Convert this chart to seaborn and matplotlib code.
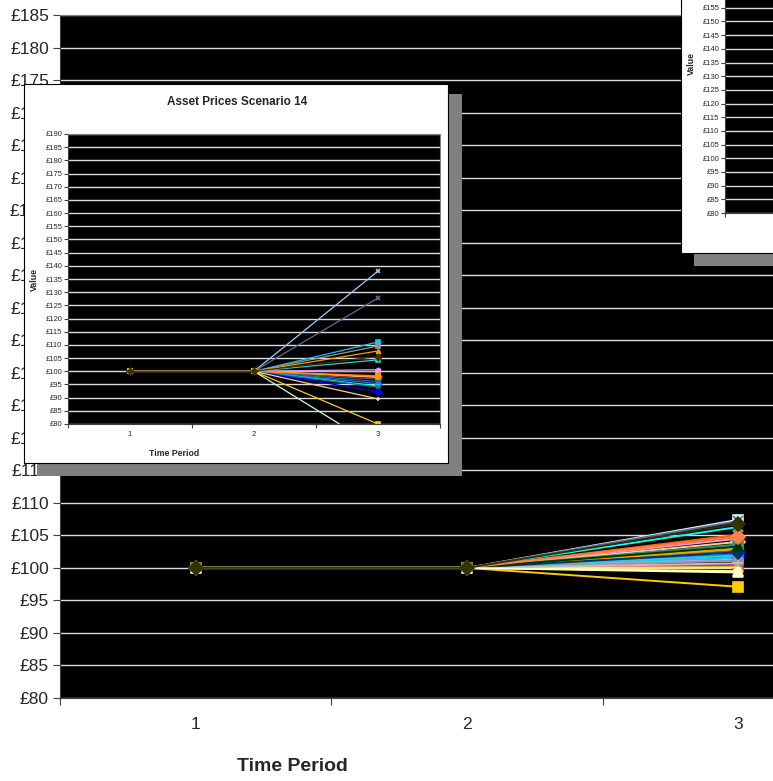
import numpy as np
import pandas as pd
import seaborn as sns
import matplotlib.pyplot as plt

sns.set_style("white")
plt.rcParams['font.family'] = ['Liberation Sans', 'DejaVu Sans']

periods = [1, 2, 3]
start_values = [100, 100]  # every path starts at £100 in periods 1 and 2

# main chart: value in period 3 for each path
main_end_values = [101.5, 100.4, 100.1, 106.3, 101.8, 102.8, 102.6, 101.9, 101.6, 107.4,
                   103.4, 99.5, 102.2, 104.5, 101.3, 104.0, 102.1, 101.9, 103.0, 97.1,
                   102.9, 105.1, 107.2, 101.1, 100.7, 102.4, 103.6, 103.3, 104.8, 99.3, 106.8]
main_colors = ['#000080', '#FF00FF', '#FFFF00', '#00FFFF', '#800080', '#800000', '#008080', '#0000FF',
               '#00CCFF', '#CCFFFF', '#CCFFCC', '#FFFF99', '#99CCFF', '#FF99CC', '#CC99FF', '#FFCC99',
               '#3366FF', '#33CCCC', '#99CC00', '#FFCC00', '#FF9900', '#FF6600', '#666699', '#969696',
               '#C0C0C0', '#003366', '#339966', '#003300', '#FF7F50', '#FFFFCC', '#333300']
main_markers = ['D', 's', '^', 'x', '*', 'o', '+', 'D', 's', 's', 'x', '^', '*', 'o', '+', 'D',
                's', '^', 'x', 's', 's', 'x', 'x', 'o', '+', 'D', 's', '^', 'D', '^', 'D']

# inset "Asset Prices Scenario 14"
inset_title = "Asset Prices Scenario 14"
inset_end_values = [138.0, 127.8, 111.1, 109.6, 107.7, 104.3, 100.6, 99.9, 98.3, 97.7, 97.0,
                    96.1, 95.3, 94.4, 94.0, 92.3, 89.5, 80.0, 71.0, 98.0, 105.6]
inset_colors = ['#99CCFF', '#666699', '#00CCFF', '#969696', '#FF9900', '#33CCCC', '#CC99FF',
                '#FF99CC', '#FF6600', '#FFCC99', '#993366', '#008080', '#3366FF', '#00FFFF',
                '#008080', '#0000FF', '#FFCC99', '#FFCC00', '#CCFFCC', '#FF9900', '#333300']
inset_markers = ['x', 'x', 's', 's', '^', 's', 'o', 's', 'D', 'o', 'D', 's', 'D', 'x', 'x',
                 'D', '+', 's', 'x', 's', 'D']

W, H = 773, 781


def px_axes(fig, x0, y0, x1, y1, z):
    # axes from pixel box (top-left origin)
    return fig.add_axes([x0 / W, 1 - y1 / H, (x1 - x0) / W, (y1 - y0) / H], zorder=z)


def style_chart(ax, ymax, fs, tick_len, ypad, xpad):
    ax.set_facecolor('black')
    ax.set_xlim(0.5, 3.5)
    ax.set_ylim(80, ymax)
    ticks = np.arange(80, ymax + 1, 5)
    ax.set_yticks(ticks)
    ax.set_yticklabels(['£%d' % t for t in ticks], fontsize=fs)
    ax.set_xticks([0.5, 1.5, 2.5, 3.5])
    ax.set_xticklabels([])
    ax.set_xticks(periods, minor=True)
    ax.set_xticklabels([str(p) for p in periods], minor=True, fontsize=fs)
    ax.tick_params(axis='y', length=tick_len, width=0.8, pad=ypad, color='#404040', direction='out', left=True)
    ax.tick_params(axis='x', which='major', length=tick_len, width=0.8, color='#404040', direction='out', bottom=True)
    ax.tick_params(axis='x', which='minor', length=0, pad=xpad)
    ax.grid(axis='y', color='#dddddd', linewidth=1)
    ax.set_axisbelow(True)
    for s in ax.spines.values():
        s.set_color('#808080')
        s.set_linewidth(0.8)
    ax.spines['left'].set_color('#404040')
    ax.spines['bottom'].set_color('#404040')


def draw_paths(ax, ends, colors, markers, lw, ms):
    for v, c, m in zip(ends, colors, markers):
        sns.lineplot(x=periods, y=start_values + [v], ax=ax, color=c, marker=m,
                     markersize=ms, markeredgecolor=c, markeredgewidth=1.2,
                     linewidth=lw, legend=False)


def blank_box(fig, box, z, face, edge):
    b = px_axes(fig, *box, z)
    b.set_facecolor(face)
    b.set_xticks([]); b.set_yticks([])
    for s in b.spines.values():
        if edge is None:
            s.set_visible(False)
        else:
            s.set_color(edge)
            s.set_linewidth(0.8)
    return b


fig = plt.figure(figsize=(W / 100, H / 100), dpi=100)

# main chart (extends past the right edge of the picture)
ax = px_axes(fig, 60, 15, 874, 698, 0)
style_chart(ax, 185, 12.5, 5, 3, 14)
draw_paths(ax, main_end_values, main_colors, main_markers, 1.4, 7)
ax.set_xlabel('Time Period', fontsize=14, fontweight='bold')
ax.xaxis.set_label_coords(0.285, -0.088)
ax.set_ylabel('')

# inset 1: shadow, white frame, chart
blank_box(fig, (37, 94, 462, 476), 1, '#808080', None)
blank_box(fig, (24, 84, 448, 463), 2, 'white', 'black')
ia = px_axes(fig, 68, 134, 440, 424, 3)
style_chart(ia, 190, 5.5, 3, 1, 5)
draw_paths(ia, inset_end_values, inset_colors, inset_markers, 0.9, 3)
ia.set_xlabel('Time Period', fontsize=6.3, fontweight='bold')
ia.xaxis.set_label_coords(0.285, -0.086)
ia.set_ylabel('Value', fontsize=6.3, fontweight='bold')
ia.yaxis.set_label_coords(-0.078, 0.497)
ia.text(0.454, 1.11, inset_title, transform=ia.transAxes, ha='center', va='center',
        fontsize=8.5, fontweight='bold')

# inset 2: mostly outside the picture, only its left edge shows
blank_box(fig, (694, -116, 1119, 266), 4, '#808080', None)
blank_box(fig, (681, -126, 1105, 253), 5, 'white', 'black')
ia2 = px_axes(fig, 725, -88, 1097, 213, 6)
style_chart(ia2, 190, 5.5, 3, 1, 5)
ia2.set_ylabel('Value', fontsize=6.3, fontweight='bold')
ia2.yaxis.set_label_coords(-0.078, 0.498)

fig.savefig('out.png', dpi=100)
